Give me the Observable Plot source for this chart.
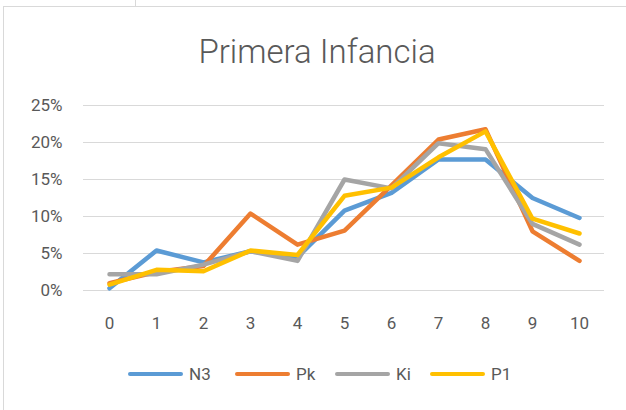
<!DOCTYPE html>
<html>
<head>
<meta charset="utf-8">
<script src="https://cdn.jsdelivr.net/npm/d3@7"></script>
<script src="https://cdn.jsdelivr.net/npm/@observablehq/plot@0.6"></script>
<style>
  html, body { margin: 0; padding: 0; background: #fff; }
  body { width: 626px; height: 410px; position: relative; overflow: hidden; font-family: Roboto, "Noto Sans", sans-serif; color: #595959; }
  #frame { position: absolute; left: 3px; top: 6px; right: -2px; bottom: -2px; border-left: 1px solid #d9d9d9; border-top: 1px solid #d9d9d9; }
  #cell { position: absolute; left: 135px; top: 0; width: 1px; height: 6px; background: #d9d9d9; }
  #title { position: absolute; left: 0; width: 634px; top: 35px; text-align: center; font-size: 33px; line-height: 33px; font-weight: 300; color: #595959; }
  #chart { position: absolute; left: 0; top: 90px; }
  #legend { position: absolute; left: 0; top: 364px; width: 626px; height: 22px; font-size: 17px; line-height: 20px; color: #595959; }
  .item { position: absolute; top: 0; display: flex; align-items: center; height: 20px; }
  .sw { width: 55px; height: 4px; border-radius: 2px; margin-right: 6px; }
</style>
</head>
<body>
<div id="frame"></div>
<div id="cell"></div>
<div id="title">Primera Infancia</div>
<div id="chart"></div>
<div id="legend"></div>
<script>
const xs = [0, 1, 2, 3, 4, 5, 6, 7, 8, 9, 10];
const seriesNames = ["N3", "Pk", "Ki", "P1"];
const N3 = [0.3, 5.4, 3.8, 5.3, 4.5, 10.8, 13.2, 17.7, 17.7, 12.5, 9.8];
const Pk = [1.0, 2.5, 3.3, 10.4, 6.2, 8.1, 14.2, 20.4, 21.8, 8.0, 4.0];
const Ki = [2.2, 2.2, 3.5, 5.3, 4.0, 15.0, 13.8, 19.9, 19.1, 9.0, 6.2];
const P1 = [0.8, 2.8, 2.6, 5.4, 4.8, 12.8, 13.9, 18.0, 21.5, 9.7, 7.7];
const yTicks = [0, 5, 10, 15, 20, 25];
const colors = ["#5B9BD5", "#ED7D31", "#A5A5A5", "#FFC000"];
const legendLeft = [128, 235, 335, 430];

const seriesValues = [N3, Pk, Ki, P1];
const data = [];
seriesNames.forEach((s, i) => xs.forEach((x, j) => data.push({series: s, x, y: seriesValues[i][j]})));

const chart = Plot.plot({
  width: 626,
  height: 250,
  marginLeft: 83,
  marginRight: 22,
  marginTop: 15,
  marginBottom: 50,
  style: {fontFamily: "Roboto, 'Noto Sans', sans-serif", fontSize: "17px", color: "#595959", background: "transparent", overflow: "visible"},
  x: {type: "point", domain: xs, padding: 0.5, label: null},
  y: {domain: [0, 25], label: null},
  color: {domain: seriesNames, range: colors},
  marks: [
    Plot.ruleY(yTicks, {stroke: "#d9d9d9", strokeWidth: 1}),
    Plot.axisY({ticks: yTicks, tickSize: 0, tickPadding: 21, tickFormat: d => d + "%", label: null}),
    Plot.axisX({tickSize: 0, tickPadding: 26, label: null}),
    ...seriesNames.map(s => Plot.line(data.filter(d => d.series === s), {
      x: "x", y: "y", stroke: "series", strokeWidth: 4.5, strokeLinejoin: "round", strokeLinecap: "round"
    }))
  ]
});
document.getElementById("chart").appendChild(chart);

const legend = document.getElementById("legend");
seriesNames.forEach((s, i) => {
  const item = document.createElement("div");
  item.className = "item";
  item.style.left = legendLeft[i] + "px";
  const sw = document.createElement("span");
  sw.className = "sw";
  sw.style.background = colors[i];
  const t = document.createElement("span");
  t.textContent = s;
  item.appendChild(sw);
  item.appendChild(t);
  legend.appendChild(item);
});
</script>
</body>
</html>
